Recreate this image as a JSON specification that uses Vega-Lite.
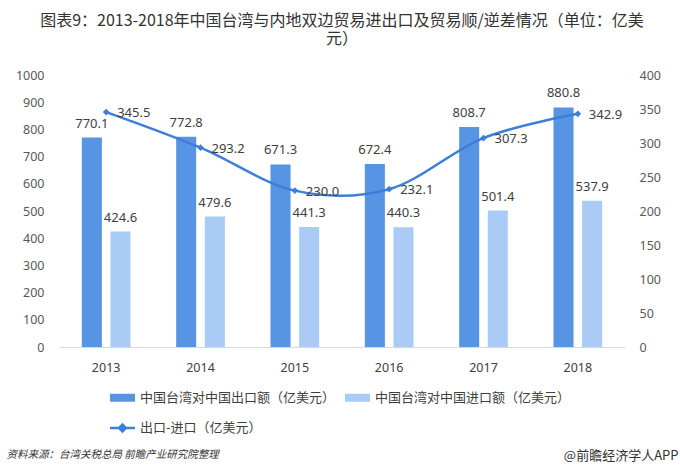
{
  "$schema": "https://vega.github.io/schema/vega-lite/v6.json",
  "width": 566,
  "height": 272,
  "autosize": {"type": "none"},
  "padding": {"left": 59, "top": 75, "right": 55, "bottom": 127},
  "background": "white",
  "title": {
    "text": ["图表9：2013-2018年中国台湾与内地双边贸易进出口及贸易顺/逆差情况（单位：亿美", "元）"],
    "anchor": "middle",
    "font": "Noto Sans CJK SC",
    "fontSize": 16,
    "fontWeight": "normal",
    "color": "#333333",
    "lineHeight": 18,
    "offset": 22
  },
  "config": {
    "view": {"stroke": null},
    "axis": {"grid": false, "ticks": false}
  },
  "datasets": {
    "trade": [
      {"year": "2013", "series": "中国台湾对中国出口额（亿美元）", "value": 770.1},
      {"year": "2013", "series": "中国台湾对中国进口额（亿美元）", "value": 424.6},
      {"year": "2014", "series": "中国台湾对中国出口额（亿美元）", "value": 772.8},
      {"year": "2014", "series": "中国台湾对中国进口额（亿美元）", "value": 479.6},
      {"year": "2015", "series": "中国台湾对中国出口额（亿美元）", "value": 671.3},
      {"year": "2015", "series": "中国台湾对中国进口额（亿美元）", "value": 441.3},
      {"year": "2016", "series": "中国台湾对中国出口额（亿美元）", "value": 672.4},
      {"year": "2016", "series": "中国台湾对中国进口额（亿美元）", "value": 440.3},
      {"year": "2017", "series": "中国台湾对中国出口额（亿美元）", "value": 808.7},
      {"year": "2017", "series": "中国台湾对中国进口额（亿美元）", "value": 501.4},
      {"year": "2018", "series": "中国台湾对中国出口额（亿美元）", "value": 880.8},
      {"year": "2018", "series": "中国台湾对中国进口额（亿美元）", "value": 537.9}
    ],
    "balance": [
      {"year": "2013", "diff": 345.5},
      {"year": "2014", "diff": 293.2},
      {"year": "2015", "diff": 230.0},
      {"year": "2016", "diff": 232.1},
      {"year": "2017", "diff": 307.3},
      {"year": "2018", "diff": 342.9}
    ]
  },
  "encoding": {
    "x": {
      "field": "year",
      "type": "nominal",
      "sort": null,
      "scale": {"paddingInner": 0.484, "paddingOuter": 0.242},
      "axis": {
        "labelAngle": 0,
        "labelFont": "Noto Sans",
        "labelFontSize": 12.5,
        "labelColor": "#404040",
        "labelPadding": 14,
        "domainColor": "#d9d9d9",
        "domainWidth": 1,
        "title": "资料来源：台湾关税总局 前瞻产业研究院整理",
        "titleFont": "Noto Sans CJK SC",
        "titleFontSize": 10.5,
        "titleFontStyle": "italic",
        "titleFontWeight": "normal",
        "titleColor": "#333333",
        "titleX": -53,
        "titleY": 107,
        "titleAlign": "left",
        "titleAnchor": "start",
        "titleBaseline": "middle"
      }
    }
  },
  "layer": [
    {
      "data": {"name": "trade"},
      "encoding": {
        "xOffset": {
          "field": "series",
          "type": "nominal",
          "sort": ["中国台湾对中国出口额（亿美元）", "中国台湾对中国进口额（亿美元）"],
          "scale": {"paddingInner": 0.3, "paddingOuter": 0}
        },
        "y": {
          "field": "value",
          "type": "quantitative",
          "scale": {"domain": [0, 1000]},
          "axis": {
            "values": [0, 100, 200, 300, 400, 500, 600, 700, 800, 900, 1000],
            "format": "d",
            "domain": false,
            "labelFont": "Noto Sans",
            "labelFontSize": 12.5,
            "labelColor": "#595959",
            "labelPadding": 15,
            "title": null
          }
        }
      },
      "layer": [
        {
          "mark": {"type": "bar"},
          "encoding": {
            "color": {
              "field": "series",
              "type": "nominal",
              "scale": {
                "domain": ["中国台湾对中国出口额（亿美元）", "中国台湾对中国进口额（亿美元）", "出口-进口（亿美元）"],
                "range": ["#5794E3", "#A9CBF5", "#3C7EDC"]
              },
              "legend": {
                "orient": "none",
                "direction": "horizontal",
                "legendX": 57,
                "legendY": 316,
                "columns": 2,
                "title": null,
                "columnPadding": 9,
                "rowPadding": 14.5,
                "symbolSize": 625,
                "labelOffset": 11,
                "labelLimit": 300,
                "labelFont": "Noto Sans CJK SC",
                "labelFontSize": 13,
                "labelColor": "#404040",
                "encode": {
                  "symbols": {
                    "update": {
                      "shape": {"signal": "datum.value === '出口-进口（亿美元）' ? 'M-1,0H1M0,-0.27L0.27,0L0,0.27L-0.27,0Z' : 'M-1,-0.32H1V0.32H-1Z'"},
                      "size": {"value": 625},
                      "fill": {"signal": "scale('color', datum.value)"},
                      "stroke": {"signal": "scale('color', datum.value)"},
                      "strokeWidth": {"signal": "datum.value === '出口-进口（亿美元）' ? 2.5 : 0"},
                      "opacity": {"value": 1},
                      "fillOpacity": {"value": 1}
                    }
                  }
                }
              }
            }
          }
        },
        {
          "mark": {"type": "text", "baseline": "bottom", "dy": -7, "font": "Noto Sans", "fontSize": 13, "color": "#404040"},
          "encoding": {"text": {"field": "value", "type": "quantitative", "format": ".1f"}}
        }
      ]
    },
    {
      "data": {"name": "balance"},
      "encoding": {
        "y": {
          "field": "diff",
          "type": "quantitative",
          "scale": {"domain": [0, 400]},
          "axis": {
            "orient": "right",
            "values": [0, 50, 100, 150, 200, 250, 300, 350, 400],
            "domain": false,
            "labelFont": "Noto Sans",
            "labelFontSize": 12.5,
            "labelColor": "#595959",
            "labelPadding": 14,
            "title": "@前瞻经济学人APP",
            "titleFont": "Noto Sans CJK SC",
            "titleFontSize": 13,
            "titleFontWeight": "normal",
            "titleColor": "#333333",
            "titleAngle": 0,
            "titleX": 53,
            "titleY": 380,
            "titleAlign": "right",
            "titleBaseline": "middle"
          }
        }
      },
      "layer": [
        {
          "mark": {
            "type": "line",
            "interpolate": "cardinal",
            "strokeWidth": 2.5,
            "point": {"shape": "diamond", "size": 45, "filled": true}
          },
          "encoding": {"color": {"datum": "出口-进口（亿美元）", "type": "nominal"}}
        },
        {
          "mark": {"type": "text", "align": "left", "baseline": "middle", "dx": 11, "dy": 1, "font": "Noto Sans", "fontSize": 13, "color": "#404040"},
          "encoding": {"text": {"field": "diff", "type": "quantitative", "format": ".1f"}}
        }
      ]
    }
  ],
  "resolve": {"scale": {"y": "independent"}}
}
